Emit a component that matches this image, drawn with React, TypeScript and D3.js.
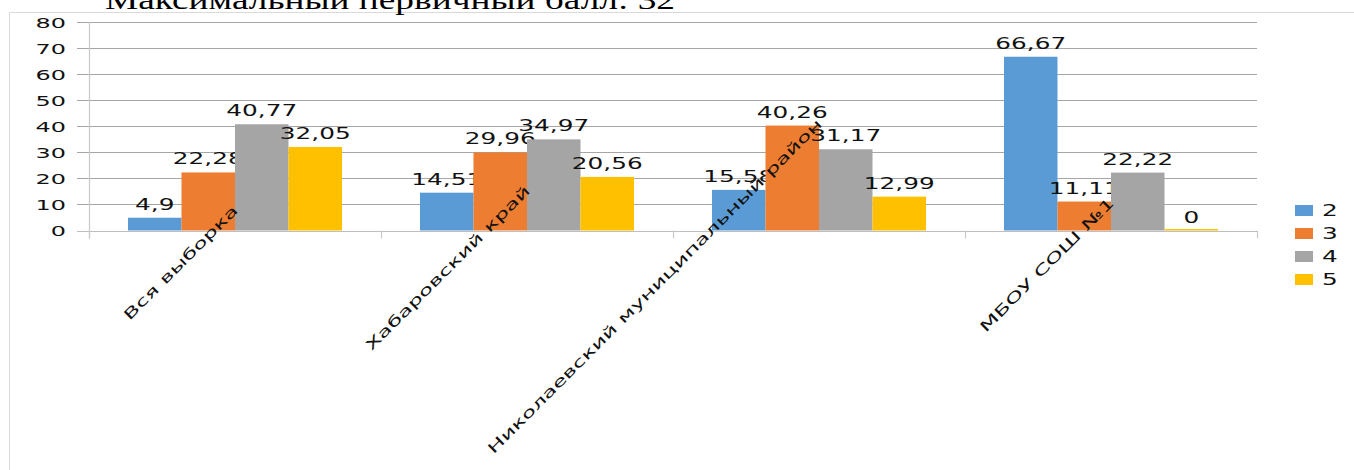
import React, { useEffect, useRef } from 'react';
import * as d3 from 'd3';

const categories = [
  'Вся выборка',
  'Хабаровский край',
  'Николаевский муниципальный район',
  'МБОУ СОШ №1',
];
const seriesNames = ['2', '3', '4', '5'];
const grade2 = [4.9, 14.51, 15.58, 66.67];
const grade3 = [22.28, 29.96, 40.26, 11.11];
const grade4 = [40.77, 34.97, 31.17, 22.22];
const grade5 = [32.05, 20.56, 12.99, 0];
const yTicks = [0, 10, 20, 30, 40, 50, 60, 70, 80];
const title = 'Максимальный первичный балл: 32';

const seriesValues = [grade2, grade3, grade4, grade5];
const colors = ['#5B9BD5', '#ED7D31', '#A5A5A5', '#FFC000'];

const App: React.FC = () => {
  const svgRef = useRef<SVGSVGElement>(null);

  useEffect(() => {
    if (!svgRef.current) return;
    const svg = d3.select(svgRef.current);
    svg.selectAll('*').remove();

    const width = 1354;
    const height = 470;
    const stretch = 1.65; // glyphs in the picture are drawn wide
    const font = 'DejaVu Sans, Verdana, sans-serif';
    const textColor = '#111';

    const plot = { left: 89, right: 1257, top: 22, bottom: 230.5 };

    svg.attr('width', width).attr('height', height);

    // chart frame
    svg
      .append('path')
      .attr('d', `M9.5,${height} V12.5 H${width}`)
      .attr('fill', 'none')
      .attr('stroke', '#d9d9d9');

    // cut-off title above the frame
    svg
      .append('text')
      .attr('x', 105)
      .attr('y', 9)
      .attr('font-family', 'Liberation Serif, Times New Roman, serif')
      .attr('font-size', 27)
      .attr('textLength', 570)
      .attr('lengthAdjust', 'spacingAndGlyphs')
      .attr('fill', '#000')
      .text(title);

    const x0 = d3
      .scaleBand<string>()
      .domain(categories)
      .range([plot.left, plot.right])
      .paddingInner(0.267)
      .paddingOuter(0.1335);

    const x1 = d3
      .scaleBand<string>()
      .domain(seriesNames)
      .range([0, x0.bandwidth()]);

    const y = d3
      .scaleLinear()
      .domain([0, 80])
      .range([plot.bottom, plot.top]);

    // gridlines + left tick marks
    const grid = svg.append('g');
    yTicks.forEach((t) => {
      grid
        .append('line')
        .attr('x1', plot.left - 12)
        .attr('x2', plot.right)
        .attr('y1', Math.round(y(t)) + 0.5)
        .attr('y2', Math.round(y(t)) + 0.5)
        .attr('stroke', t === 0 ? '#bfbfbf' : '#a6a6a6')
        .attr('stroke-width', 1.2);

      grid
        .append('text')
        .attr(
          'transform',
          `translate(${plot.left - 23},${y(t) + 5.5}) scale(${stretch},1)`
        )
        .attr('text-anchor', 'end')
        .attr('font-family', font)
        .attr('font-size', 14.5)
        .attr('fill', textColor)
        .text(String(t));
    });

    // vertical axis line
    svg
      .append('line')
      .attr('x1', plot.left + 0.5)
      .attr('x2', plot.left + 0.5)
      .attr('y1', plot.top)
      .attr('y2', plot.bottom + 8)
      .attr('stroke', '#c8c8c8')
      .attr('stroke-width', 1.2);

    // category tick marks
    const boundaries = categories
      .map((c) => (x0(c) as number) - (x0.step() * 0.267) / 2)
      .concat([plot.right]);
    boundaries.forEach((bx) => {
      svg
        .append('line')
        .attr('x1', Math.round(bx) + 0.5)
        .attr('x2', Math.round(bx) + 0.5)
        .attr('y1', plot.bottom)
        .attr('y2', plot.bottom + 8)
        .attr('stroke', '#c8c8c8')
        .attr('stroke-width', 1.2);
    });

    // bars + value labels
    categories.forEach((cat, ci) => {
      const g = svg.append('g').attr('transform', `translate(${x0(cat)},0)`);
      seriesNames.forEach((s, si) => {
        const v = seriesValues[si][ci];
        const bx = x1(s) as number;
        const top = y(v);
        g.append('rect')
          .attr('x', bx)
          .attr('y', Math.min(top, plot.bottom - 1.5))
          .attr('width', x1.bandwidth())
          .attr('height', Math.max(plot.bottom - top, 1.5))
          .attr('fill', colors[si]);

        g.append('text')
          .attr(
            'transform',
            `translate(${bx + x1.bandwidth() / 2},${top - 8}) scale(${stretch},1)`
          )
          .attr('text-anchor', 'middle')
          .attr('font-family', font)
          .attr('font-size', 15)
          .attr('fill', textColor)
          .text(String(v).replace('.', ','));
      });
    });

    // rotated category labels
    categories.forEach((cat) => {
      const cx = (x0(cat) as number) + x0.bandwidth() / 2;
      const t = svg
        .append('text')
        .attr('text-anchor', 'end')
        .attr('font-family', font)
        .attr('font-size', 14.2)
        .attr('fill', textColor)
        .text(cat);
      const len = (t.node() as SVGTextElement).getComputedTextLength() * stretch;
      const ex = cx + 4;
      const ey = plot.bottom + 24 - 0.278 * len;
      t.attr('transform', `translate(${ex},${ey}) rotate(-45) scale(${stretch},1)`);
    });

    // legend
    const legend = svg.append('g').attr('transform', 'translate(1295,205)');
    seriesNames.forEach((s, i) => {
      legend
        .append('rect')
        .attr('x', 0)
        .attr('y', i * 23)
        .attr('width', 18)
        .attr('height', 11)
        .attr('fill', colors[i]);
      legend
        .append('text')
        .attr('transform', `translate(27,${i * 23 + 11}) scale(${stretch},1)`)
        .attr('font-family', font)
        .attr('font-size', 15)
        .attr('fill', textColor)
        .text(s);
    });
  }, []);

  return (
    <svg
      ref={svgRef}
      style={{ position: 'absolute', left: 0, top: 0, background: '#fff' }}
    ></svg>
  );
};

export default App;
